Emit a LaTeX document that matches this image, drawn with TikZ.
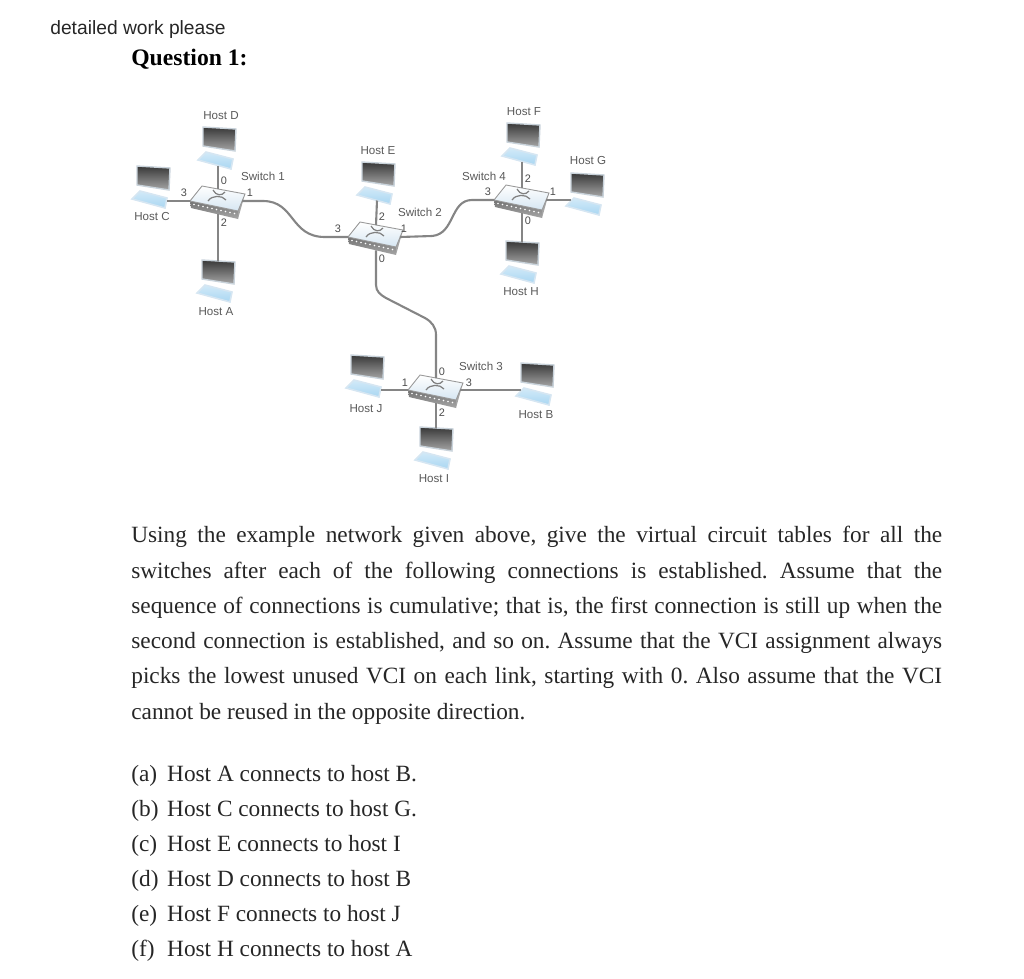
\documentclass[tikz,border=0pt]{standalone}
\usepackage{fontspec}
\setmainfont{Liberation Serif}
\newfontfamily\labelfont{Liberation Sans}

\definecolor{frameblue}{HTML}{D6E6F2}
\definecolor{keysky}{HTML}{A9D6F2}
\definecolor{keypale}{HTML}{D2EAF8}
\definecolor{screenframe}{HTML}{C9D3DB}

\newcommand{\choiceline}[2]{\makebox[20.4pt][l]{#1}#2}

\tikzset{
    wire/.style={draw=black!48,line width=1.2pt},
    hostlabel/.style={font=\labelfont\fontsize{6.6}{8}\selectfont,text=black!65,inner sep=0pt},
    portlabel/.style={font=\labelfont\fontsize{6.2}{8}\selectfont,text=black!70,inner sep=0pt},
    laptop/.pic={
        \shade[top color=black!78,bottom color=black!35,draw=screenframe,line width=0.8pt]
            (0,0) -- (33,-2) -- (32,-24) -- (0,-19) -- cycle;
        \shade[top color=keypale,bottom color=keysky,draw=frameblue,line width=0.9pt]
            (3,-25) -- (30,-32) -- (28,-42) -- (-5,-33) -- cycle;
        \coordinate (-n) at (16,-1);
        \coordinate (-s) at (15,-38.5);
        \coordinate (-e) at (30,-35);
        \coordinate (-w) at (0,-27);
    },
    switchbox/.pic={
        \fill[black!35] (20,-10) -- (27,7) -- (20,-18) -- cycle;
        \shade[top color=black!55,bottom color=black!35]
            (-28,0) -- (20,-10) -- (20,-18) -- (-27,-7) -- cycle;
        \foreach \i in {0,...,9}
            \fill[white] (-24+\i*4.5,-3.5-\i*1) circle (0.8);
        \shade[top color=white,bottom color=frameblue,draw=black!40,line width=0.5pt]
            (-28,0) -- (-16,15) -- (27,7) -- (20,-10) -- cycle;
        \draw[black!50,line width=0.7pt] (-5,11) .. controls (-2,5) and (4,5) .. (7,9);
        \draw[black!50,line width=0.7pt] (-10,0) .. controls (-6,6) and (4,6) .. (8,1);
        \coordinate (-n) at (0,12);
        \coordinate (-s) at (0,-13.3);
        \coordinate (-e) at (24,0);
        \coordinate (-w) at (-28,0);
    },
}

\begin{document}
\frenchspacing
\begin{tikzpicture}[x=0.02cm,y=0.02cm]
    \useasboundingbox (0,0) rectangle (1024,-978);

    % Header
    \node at (50,-29.5) [anchor=west,inner sep=0pt,font=\labelfont\fontsize{10.95}{13}\selectfont,text=black!85] (asking) {detailed work please};
    \node at (131,-59.5) [anchor=west,inner sep=0pt,font=\bfseries\fontsize{13.45}{16}\selectfont] (title) {Question 1:};

    % Switches
    \pic (sw1) at (218,-201) {switchbox};
    \pic (sw2) at (376,-237) {switchbox};
    \pic (sw3) at (436,-390) {switchbox};
    \pic (sw4) at (522,-200) {switchbox};

    % Hosts
    \pic (hostA) at (202,-260) {laptop};
    \pic (hostB) at (521,-363) {laptop};
    \pic (hostC) at (137,-166) {laptop};
    \pic (hostD) at (203,-127) {laptop};
    \pic (hostE) at (362,-162) {laptop};
    \pic (hostF) at (507,-123) {laptop};
    \pic (hostG) at (571,-173) {laptop};
    \pic (hostH) at (506,-241) {laptop};
    \pic (hostI) at (420,-427) {laptop};
    \pic (hostJ) at (351,-355) {laptop};

    % Host links
    \draw[wire] (hostD-s) to (sw1-n);
    \draw[wire] (hostA-n) to (sw1-s);
    \draw[wire] (hostC-e) to (sw1-w);
    \draw[wire] (hostE-s) to (sw2-n);
    \draw[wire] (hostF-s) to (sw4-n);
    \draw[wire] (hostH-n) to (sw4-s);
    \draw[wire] (hostG-w) to (sw4-e);
    \draw[wire] (hostJ-e) to (sw3-w);
    \draw[wire] (hostB-w) to (sw3-e);
    \draw[wire] (hostI-n) to (sw3-s);

    % Links between switches
    \coordinate (bendA) at (376,-285);
    \coordinate (bendB) at (386,-298);
    \coordinate (bendC) at (425,-318);
    \coordinate (bendD) at (436,-335);
    \coordinate (kneeA) at (263,-201);
    \coordinate (kneeB) at (325,-237);
    \coordinate (kneeC) at (432,-236);
    \coordinate (kneeD) at (472,-200);
    \draw[wire] (sw1-e) to (kneeA) .. controls (295,-201) and (290,-237) .. (kneeB) to (sw2-w);
    \draw[wire] (sw2-e) to (kneeC) .. controls (455,-234) and (450,-200) .. (kneeD) to (sw4-w);
    \draw[wire] (sw2-s) to (bendA) to[out=270,in=150] (bendB) to (bendC) to[out=330,in=90] (bendD) to (sw3-n);

    % Host names
    \node at (221,-116) [hostlabel] (nameD) {Host D};
    \node at (152,-217) [hostlabel] (nameC) {Host C};
    \node at (216,-312) [hostlabel] (nameA) {Host A};
    \node at (378,-151) [hostlabel] (nameE) {Host E};
    \node at (524,-112) [hostlabel] (nameF) {Host F};
    \node at (588,-161) [hostlabel] (nameG) {Host G};
    \node at (521,-292) [hostlabel] (nameH) {Host H};
    \node at (366,-409) [hostlabel] (nameJ) {Host J};
    \node at (536,-415) [hostlabel] (nameB) {Host B};
    \node at (434,-479) [hostlabel] (nameI) {Host I};

    % Switch names
    \node at (263,-176) [hostlabel] (name1) {Switch 1};
    \node at (420,-212) [hostlabel] (name2) {Switch 2};
    \node at (481,-366) [hostlabel] (name3) {Switch 3};
    \node at (484,-176) [hostlabel] (name4) {Switch 4};

    % Port numbers
    \node at (224,-181) [portlabel] (p10) {0};
    \node at (250,-193) [portlabel] (p11) {1};
    \node at (224,-223) [portlabel] (p12) {2};
    \node at (184,-193) [portlabel] (p13) {3};
    \node at (382,-259) [portlabel] (p20) {0};
    \node at (404,-229) [portlabel] (p21) {1};
    \node at (382,-217) [portlabel] (p22) {2};
    \node at (338,-229) [portlabel] (p23) {3};
    \node at (442,-372) [portlabel] (p30) {0};
    \node at (405,-383) [portlabel] (p31) {1};
    \node at (442,-413) [portlabel] (p32) {2};
    \node at (469,-383) [portlabel] (p33) {3};
    \node at (528,-221) [portlabel] (p40) {0};
    \node at (553,-192) [portlabel] (p41) {1};
    \node at (528,-179) [portlabel] (p42) {2};
    \node at (488,-192) [portlabel] (p43) {3};

    % Question text
    \node at (131,-526) [anchor=north west,inner sep=0pt,text width=16.22cm,align=justify,font=\fontsize{13.26}{20.07}\selectfont,text=black!85] (body)
    {Using the example network given above, give the virtual circuit tables for all the\linebreak
    switches after each of the following connections is established. Assume that the\linebreak
    sequence of connections is cumulative; that is, the first connection is still up when the\linebreak
    second connection is established, and so on. Assume that the VCI assignment always\linebreak
    picks the lowest unused VCI on each link, starting with 0. Also assume that the VCI\linebreak
    cannot be reused in the opposite direction.};

    \node at (131,-765) [anchor=north west,inner sep=0pt,align=left,font=\fontsize{13.26}{19.95}\selectfont,text=black!85] (choices)
    {\choiceline{(a)}{Host A connects to host B.}\\
    \choiceline{(b)}{Host C connects to host G.}\\
    \choiceline{(c)}{Host E connects to host I}\\
    \choiceline{(d)}{Host D connects to host B}\\
    \choiceline{(e)}{Host F connects to host J}\\
    \choiceline{(f)}{Host H connects to host A}};
\end{tikzpicture}
\end{document}
